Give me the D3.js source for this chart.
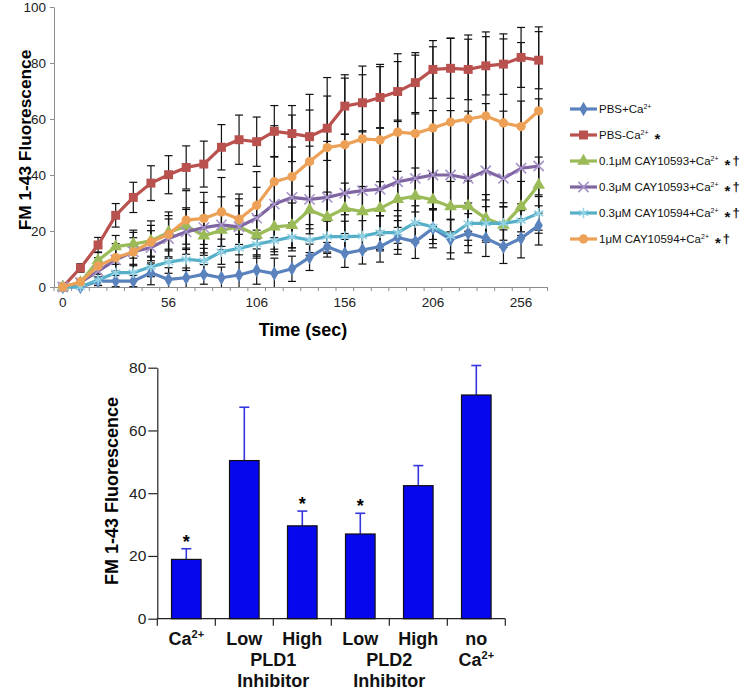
<!DOCTYPE html>
<html>
<head>
<meta charset="utf-8">
<script src="https://cdn.jsdelivr.net/npm/d3@7"></script>
<style>
  body { margin: 0; background: #fff; }
  svg { display: block; }
</style>
</head>
<body>
<div id="chart"></div>
<script>
// ---- top panel: time course ----
const times = [0, 6, 16, 26, 36, 46, 56, 66, 76, 86, 96, 106, 116, 126, 136, 146,
  156, 166, 176, 186, 196, 206, 216, 226, 236, 246, 256, 266];
const xTickLabels = [0, 56, 106, 156, 206, 256];
const yTicksTop = [0, 20, 40, 60, 80, 100];

const seriesNames = ['PBS+Ca', 'PBS-Ca', '0.1\u03BCM CAY10593+Ca', '0.3\u03BCM CAY10593+Ca',
  '0.3\u03BCM CAY10594+Ca', '1\u03BCM CAY10594+Ca'];
const seriesSig = ['', '*', '*\u2020', '*\u2020', '*\u2020', '*\u2020'];

const pbsCa = [0, 0, 2.1, 2.1, 2.1, 5.1, 2.7, 3.3, 4.5, 3.3, 4.3, 6, 4.8, 6.5, 10.6, 14.4,
  12, 13.2, 14.4, 17.7, 16.2, 21, 17, 19.2, 17.4, 14.4, 17.4, 22];
const pbsCaErr = [0, 0.5, 1.5, 2, 2, 4.3, 4.2, 3.5, 3.5, 3.8, 4.5, 5, 5.5, 4.5, 4.7, 3.7,
  5, 5, 5.5, 6, 6, 7, 7, 7, 6.5, 6, 7, 7];

const pbsNoCa = [0, 6.8, 15, 25.6, 32, 37.1, 40.1, 42.7, 43.9, 49.9, 52.6, 51.9, 55.6, 54.8,
  53.7, 56.7, 64.6, 65.8, 67.7, 69.8, 73, 77.7, 78.1, 77.7, 79, 79.6, 82, 81];
const pbsNoCaErr = [0, 1.5, 2.7, 4.2, 5.4, 6.2, 6.8, 7.7, 8.2, 8.1, 8.8, 8.8, 9.2, 10, 9.5,
  11.5, 10, 10, 11, 10.7, 10.7, 10.3, 10.7, 10.8, 10.4, 10.8, 10.7, 10.2];

const cay93Low = [0, 1.6, 9.5, 14.4, 15.3, 16.5, 19.5, 21.8, 18.3, 20.3, 21.5, 18.5, 21.5, 22,
  27.5, 24.9, 28.1, 26.9, 28.1, 31.3, 32.5, 31.1, 28.7, 28.9, 24.5, 22.1, 28.7, 36.4];
const cay93LowErr = [0, 1, 3, 4, 5, 5.5, 6, 6.5, 7, 7, 7.5, 7, 8, 8, 8.5, 9, 9, 9, 9.5, 10,
  10, 9.5, 9, 9, 8.5, 8, 9, 10];

const cay93High = [0, 1.6, 5.7, 9.7, 12.6, 14.1, 17.3, 19.7, 21.2, 22.2, 21.5, 24.6, 29.6, 32,
  31.3, 32, 33.5, 34.4, 34.9, 37.6, 38.8, 40, 40, 38.8, 41.5, 38.8, 42.4, 43.2];
const cay93HighErr = [0, 1, 2.5, 4, 5, 6, 7, 8, 9, 10, 10, 11, 17, 18, 19, 20, 21, 21, 22, 22,
  23, 23, 23, 24, 24, 24, 24, 24];

const cay94Low = [0, 0, 2.5, 5.1, 5.1, 7.2, 8.9, 9.9, 9.3, 12.6, 13.8, 15.3, 16.5, 17.9, 16.8,
  18, 18, 18.2, 19.4, 19.4, 23, 21.5, 18.2, 22.7, 22.7, 22.7, 23.7, 26.3];
const cay94LowErr = [0, 0.5, 2, 3, 3, 3.5, 4, 4, 4.5, 4.5, 5, 5, 5, 5, 5.5, 5.5, 5.5, 5.5, 6,
  6, 6, 6, 6, 6, 6, 6, 6, 6];

const cay94High = [0, 1.8, 7.5, 10.5, 12.5, 16.1, 18.8, 23.9, 24.5, 26.8, 24.2, 29.2, 37.6,
  39.4, 44.8, 49.8, 50.8, 52.9, 52.5, 55.3, 54.8, 56.8, 58.9, 60, 61.1, 58.6, 57.3, 62.9];
const cay94HighErr = [0, 1, 3, 5, 7, 7.5, 8, 10.5, 9.3, 12.3, 9, 12, 20, 22, 24, 25, 25, 26,
  27, 28, 28, 29, 30, 30, 30, 30, 30, 30];

// ---- bottom panel: bar chart ----
const barLine1 = ['Ca', 'Low', 'High', 'Low', 'High', 'no'];
const barGroupLabels = ['PLD1', 'PLD2'];
const barValues = [18.9, 50.4, 29.6, 27.0, 42.4, 71.3];
const barErrors = [3.4, 17.0, 4.7, 6.6, 6.4, 9.4];
const barSig = [true, false, true, true, false, false];
const yTicksBottom = [0, 20, 40, 60, 80];

const font = "'Liberation Sans', Arial, Helvetica, sans-serif";
const width = 747, height = 691;

const svg = d3.select('#chart').append('svg')
  .attr('width', width)
  .attr('height', height)
  .attr('font-family', font);

const series = [
  { name: seriesNames[0], sig: seriesSig[0], values: pbsCa, err: pbsCaErr, color: '#5a82bd', mark: 'diamond' },
  { name: seriesNames[1], sig: seriesSig[1], values: pbsNoCa, err: pbsNoCaErr, color: '#b9514e', mark: 'square' },
  { name: seriesNames[2], sig: seriesSig[2], values: cay93Low, err: cay93LowErr, color: '#9bbb59', mark: 'triangle' },
  { name: seriesNames[3], sig: seriesSig[3], values: cay93High, err: cay93HighErr, color: '#7f66a2', mark: 'x', markColor: '#a793c8' },
  { name: seriesNames[4], sig: seriesSig[4], values: cay94Low, err: cay94LowErr, color: '#55afc8', mark: 'asterisk', markColor: '#94d3e6' },
  { name: seriesNames[5], sig: seriesSig[5], values: cay94High, err: cay94HighErr, color: '#eda157', mark: 'circle' }
];

const x = d3.scaleBand().domain(times).range([54, 547.5]);
const cx = t => x(t) + x.bandwidth() / 2;
const y = d3.scaleLinear().domain([0, 100]).range([287, 7]).clamp(true);

const symbolFor = {
  diamond: d3.symbol(d3.symbolDiamond, 60),
  square: d3.symbol(d3.symbolSquare, 80),
  triangle: d3.symbol(d3.symbolTriangle, 70),
  circle: d3.symbol(d3.symbolCircle, 68),
  x: d3.symbol(d3.symbolX, 70),
  asterisk: d3.symbol(d3.symbolAsterisk, 80)
};

function drawMarker(g, s) {
  const p = g.append('path').attr('d', symbolFor[s.mark]());
  if (s.mark === 'x' || s.mark === 'asterisk') {
    p.attr('fill', 'none').attr('stroke', s.markColor).attr('stroke-width', 1.6);
  } else {
    p.attr('fill', s.color);
  }
  return p;
}

// axes
const xAxisTop = svg.append('g')
  .attr('transform', `translate(0,${y(0)})`)
  .call(d3.axisBottom(x).tickValues(xTickLabels).tickSize(0).tickPadding(10.5))
  .attr('font-family', font)
  .attr('font-size', '13.5px');
xAxisTop.select('.domain').attr('stroke', '#8c8c8c');
xAxisTop.selectAll('text').attr('fill', '#222');

svg.append('g')
  .selectAll('line')
  .data(times.concat(['end']))
  .join('line')
    .attr('x1', d => d === 'end' ? x.range()[1] : x(d))
    .attr('x2', d => d === 'end' ? x.range()[1] : x(d))
    .attr('y1', y(0))
    .attr('y2', y(0) + 4)
    .attr('stroke', '#8c8c8c');

const yAxisTop = svg.append('g')
  .attr('transform', `translate(${x.range()[0]},0)`)
  .call(d3.axisLeft(y).tickValues(yTicksTop).tickSize(4).tickSizeOuter(0).tickPadding(4))
  .attr('font-family', font)
  .attr('font-size', '13.5px');
yAxisTop.selectAll('.domain, line').attr('stroke', '#8c8c8c');
yAxisTop.selectAll('text').attr('fill', '#222');

svg.append('text')
  .attr('transform', 'translate(31,140) rotate(-90)')
  .attr('text-anchor', 'middle')
  .attr('font-weight', 'bold')
  .attr('font-size', '17.3px')
  .text('FM 1-43 Fluorescence');

svg.append('text')
  .attr('x', 303).attr('y', 336)
  .attr('text-anchor', 'middle')
  .attr('font-weight', 'bold')
  .attr('font-size', '18px')
  .text('Time (sec)');

// error bars
const errG = svg.append('g').attr('stroke', '#111').attr('stroke-width', 1.2);
series.forEach(s => {
  const pts = times.map((t, i) => ({ t, v: s.values[i], e: s.err[i] })).filter(d => d.e > 0);
  const g = errG.append('g');
  g.selectAll('.stem').data(pts).join('line')
    .attr('x1', d => cx(d.t)).attr('x2', d => cx(d.t))
    .attr('y1', d => y(d.v - d.e)).attr('y2', d => y(d.v + d.e));
  g.selectAll('.capTop').data(pts).join('line')
    .attr('x1', d => cx(d.t) - 4).attr('x2', d => cx(d.t) + 4)
    .attr('y1', d => y(d.v + d.e)).attr('y2', d => y(d.v + d.e));
  g.selectAll('.capBot').data(pts.filter(d => d.v - d.e > 0)).join('line')
    .attr('x1', d => cx(d.t) - 4).attr('x2', d => cx(d.t) + 4)
    .attr('y1', d => y(d.v - d.e)).attr('y2', d => y(d.v - d.e));
});

// lines and markers
const line = d3.line().x(d => cx(d.t)).y(d => y(d.v));
series.forEach(s => {
  const pts = times.map((t, i) => ({ t, v: s.values[i] }));
  const g = svg.append('g');
  g.append('path')
    .attr('d', line(pts))
    .attr('fill', 'none')
    .attr('stroke', s.color)
    .attr('stroke-width', 3.2)
    .attr('stroke-linejoin', 'round');
  pts.forEach(d => {
    drawMarker(g, s).attr('transform', `translate(${cx(d.t)},${y(d.v)})`);
  });
});

// legend
const legend = svg.append('g').attr('transform', 'translate(570,109)');
series.forEach((s, i) => {
  const g = legend.append('g').attr('transform', `translate(0,${i * 26})`);
  g.append('line').attr('x1', 0).attr('x2', 27).attr('stroke', s.color).attr('stroke-width', 3.2);
  drawMarker(g, s).attr('transform', 'translate(13.5,0)');
  const t = g.append('text').attr('x', 29).attr('y', 4).attr('font-size', '11.5px').attr('fill', '#111');
  t.append('tspan').text(s.name);
  t.append('tspan').attr('font-size', '7px').attr('dy', -4.5).text('2+');
  if (s.sig) {
    t.append('tspan').attr('dx', 6).attr('dy', 9.5).attr('font-weight', 'bold').attr('font-size', '15px').text(s.sig[0]);
    if (s.sig.length > 1) {
      t.append('tspan').attr('dx', 2).attr('dy', -5).attr('font-weight', 'bold').attr('font-size', '13px').text(s.sig[1]);
    }
  }
});

// ---- bottom bar chart ----
const xb = d3.scaleBand().domain(d3.range(barValues.length)).range([157.3, 505.3])
  .paddingInner(0.49).paddingOuter(0.245);
const yb = d3.scaleLinear().domain([0, 80]).range([618.7, 367.7]);

const yAxisB = svg.append('g')
  .attr('transform', `translate(${xb.range()[0]},0)`)
  .call(d3.axisLeft(yb).tickValues(yTicksBottom).tickSize(9).tickSizeOuter(0).tickPadding(2))
  .attr('font-family', font)
  .attr('font-size', '15.5px');
yAxisB.selectAll('.domain, line').attr('stroke', '#222').attr('stroke-width', 1.2);
yAxisB.selectAll('text').attr('fill', '#222');

svg.append('line')
  .attr('x1', xb.range()[0]).attr('x2', xb.range()[1])
  .attr('y1', yb(0)).attr('y2', yb(0))
  .attr('stroke', '#222').attr('stroke-width', 1.2);
svg.append('g').selectAll('line')
  .data(d3.range(barValues.length + 1))
  .join('line')
    .attr('x1', k => xb.range()[0] + k * xb.step())
    .attr('x2', k => xb.range()[0] + k * xb.step())
    .attr('y1', yb(0)).attr('y2', yb(0) + 7)
    .attr('stroke', '#222').attr('stroke-width', 1.2);

const barCx = i => xb(i) + xb.bandwidth() / 2;

// error bars (upper only)
svg.append('g').attr('stroke', '#3535dd').attr('stroke-width', 1.6)
  .selectAll('g').data(barValues).join('g')
  .each(function (v, i) {
    const g = d3.select(this);
    g.append('line').attr('x1', barCx(i)).attr('x2', barCx(i))
      .attr('y1', yb(v)).attr('y2', yb(v + barErrors[i]));
    g.append('line').attr('x1', barCx(i) - 5).attr('x2', barCx(i) + 5)
      .attr('y1', yb(v + barErrors[i])).attr('y2', yb(v + barErrors[i]));
  });

svg.append('g').selectAll('rect')
  .data(barValues)
  .join('rect')
    .attr('x', (d, i) => xb(i))
    .attr('y', d => yb(d))
    .attr('width', xb.bandwidth())
    .attr('height', d => yb(0) - yb(d))
    .attr('fill', '#0707ee')
    .attr('stroke', '#111')
    .attr('stroke-width', 1.2);

svg.append('g').selectAll('text')
  .data(barValues.map((v, i) => ({ v, i })).filter(d => barSig[d.i]))
  .join('text')
    .attr('x', d => barCx(d.i))
    .attr('y', d => yb(d.v + barErrors[d.i]) - 1)
    .attr('text-anchor', 'middle')
    .attr('font-weight', 'bold')
    .attr('font-size', '18px')
    .text('*');

// category labels
const labG = svg.append('g').attr('font-weight', 'bold').attr('font-size', '18px').attr('fill', '#111');
barLine1.forEach((lab, i) => {
  const t = labG.append('text').attr('x', barCx(i)).attr('y', 645).attr('text-anchor', 'middle');
  t.append('tspan').text(lab);
  if (i === 0) t.append('tspan').attr('font-size', '11px').attr('dy', -7).text('2+');
});
barGroupLabels.forEach((lab, k) => {
  const gx = xb.range()[0] + (2 + 2 * k) * xb.step();
  labG.append('text').attr('x', gx).attr('y', 666).attr('text-anchor', 'middle').text(lab);
  labG.append('text').attr('x', gx).attr('y', 686.5).attr('text-anchor', 'middle').text('Inhibitor');
});
const noCa = labG.append('text').attr('x', barCx(5)).attr('y', 666).attr('text-anchor', 'middle');
noCa.append('tspan').text('Ca');
noCa.append('tspan').attr('font-size', '11px').attr('dy', -7).text('2+');

svg.append('text')
  .attr('transform', 'translate(118,491) rotate(-90)')
  .attr('text-anchor', 'middle')
  .attr('font-weight', 'bold')
  .attr('font-size', '18px')
  .text('FM 1-43 Fluorescence');
</script>
</body>
</html>
